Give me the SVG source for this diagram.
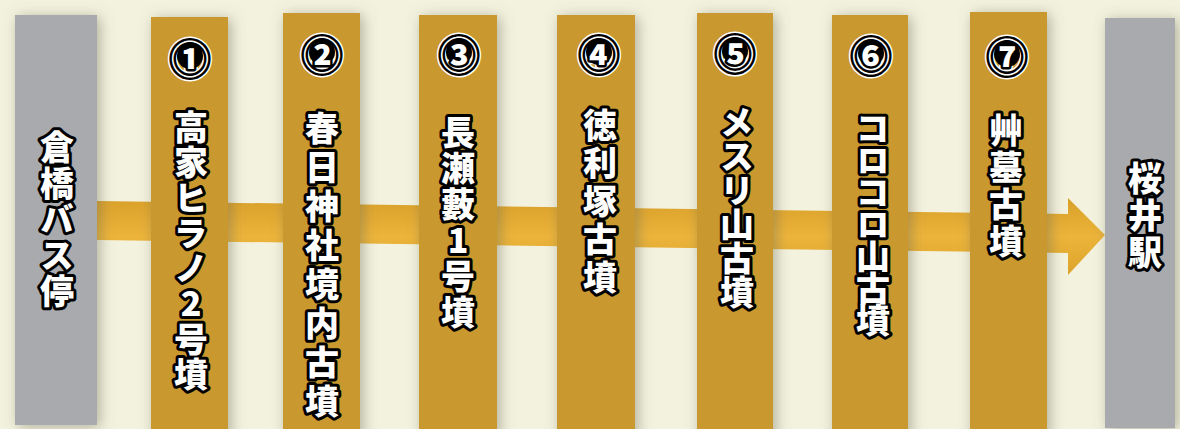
<svg xmlns="http://www.w3.org/2000/svg" width="1180" height="429" viewBox="0 0 1180 429">
<defs>
<filter id="sh" x="-40%" y="-10%" width="180%" height="130%">
<feDropShadow dx="3" dy="2" stdDeviation="7" flood-color="#6e6d58" flood-opacity="0.5"/>
</filter>
<linearGradient id="band" x1="0" y1="0" x2="0" y2="1">
<stop offset="0" stop-color="#d9a02a"/>
<stop offset="0.5" stop-color="#ecb43a"/>
<stop offset="1" stop-color="#dca42c"/>
</linearGradient>
<style>
.gold{fill:#c9982f;filter:url(#sh)}
.gray{fill:#a9aaae;filter:url(#sh)}
.lbl{font-family:"Noto Sans CJK JP","Noto Sans CJK SC",sans-serif;font-weight:900;font-size:34px;fill:#fff;stroke:#000;stroke-width:6;stroke-linejoin:round;paint-order:stroke;writing-mode:vertical-rl;text-orientation:upright}
.num{font-family:"Noto Sans CJK JP","Noto Sans CJK SC",sans-serif;font-weight:900;font-size:38px;text-anchor:middle;dominant-baseline:central}
.numbg{fill:#fff;stroke:#fff;stroke-width:8;stroke-linejoin:round}
.numfg{fill:#fff;stroke:#000;stroke-width:5;stroke-linejoin:round;paint-order:stroke}
.disc{fill:#000}
</style>
</defs>
<rect width="1180" height="429" fill="#f3f2de"/>
<g id="connectors">
<polygon points="97,201 1068,214 1068,198 1105,235 1068,275 1068,253 97,240" fill="url(#band)"/>
</g>
<g id="start">
<rect class="gray" x="15" y="15" width="82" height="410"/>
<text class="lbl" x="57" y="130" style="letter-spacing:2px">倉橋バス停</text>
</g>
<g id="n1">
<rect class="gold" x="151" y="17" width="77" height="420"/>
<text class="num numbg" x="190" y="56">①</text><circle class="disc" cx="190" cy="56" r="13"/><text class="num numfg" x="190" y="56">①</text>
<text class="lbl" x="191" y="110" style="letter-spacing:1.3px">高家ヒラノ2号墳</text>
</g>
<g id="n2">
<rect class="gold" x="283" y="13" width="77" height="424"/>
<text class="num numbg" x="322" y="52">②</text><circle class="disc" cx="322" cy="52" r="13"/><text class="num numfg" x="322" y="52">②</text>
<text class="lbl" x="322" y="111" style="letter-spacing:5px">春日神社境内古墳</text>
</g>
<g id="n3">
<rect class="gold" x="419" y="15" width="78" height="422"/>
<text class="num numbg" x="459" y="52">③</text><circle class="disc" cx="459" cy="52" r="13"/><text class="num numfg" x="459" y="52">③</text>
<text class="lbl" x="458" y="115" style="letter-spacing:2px">長瀬藪1号墳</text>
</g>
<g id="n4">
<rect class="gold" x="557" y="15" width="78" height="422"/>
<text class="num numbg" x="599" y="52">④</text><circle class="disc" cx="599" cy="52" r="13"/><text class="num numfg" x="599" y="52">④</text>
<text class="lbl" x="600" y="108" style="letter-spacing:4px">徳利塚古墳</text>
</g>
<g id="n5">
<rect class="gold" x="697" y="13" width="76" height="424"/>
<text class="num numbg" x="735" y="51">⑤</text><circle class="disc" cx="735" cy="51" r="13"/><text class="num numfg" x="735" y="51">⑤</text>
<text class="lbl" x="737" y="105" style="letter-spacing:0px">メスリ山古墳</text>
</g>
<g id="n6">
<rect class="gold" x="832" y="15" width="76" height="422"/>
<text class="num numbg" x="871" y="53">⑥</text><circle class="disc" cx="871" cy="53" r="13"/><text class="num numfg" x="871" y="53">⑥</text>
<text class="lbl" x="873" y="111" style="letter-spacing:-2px">コロコロ山古墳</text>
</g>
<g id="n7">
<rect class="gold" x="970" y="12" width="77" height="425"/>
<text class="num numbg" x="1007" y="54">⑦</text><circle class="disc" cx="1007" cy="54" r="13"/><text class="num numfg" x="1007" y="54">⑦</text>
<text class="lbl" x="1006" y="113" style="letter-spacing:3px">艸墓古墳</text>
</g>
<g id="end">
<rect class="gray" x="1105" y="18" width="70" height="410"/>
<text class="lbl" x="1145" y="161" style="letter-spacing:3px">桜井駅</text>
</g>
</svg>
